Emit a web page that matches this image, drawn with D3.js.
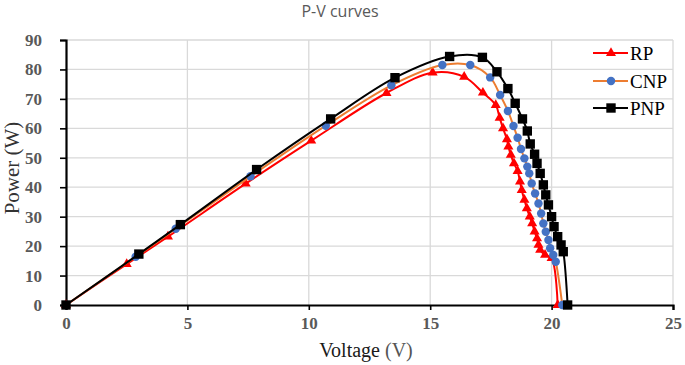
<!DOCTYPE html>
<html>
<head>
<meta charset="utf-8">
<script src="https://cdn.jsdelivr.net/npm/d3@7"></script>
<style>
  body { margin: 0; background: #fff; }
  svg { display: block; }
</style>
</head>
<body>
<svg id="chart" width="685" height="365"></svg>
<script>
// series names + values
const seriesNames = ["RP", "CNP", "PNP"];

const rpV = [0, 2.5, 4.2, 7.4, 10.1, 13.2, 15.1, 16.4, 17.17, 17.7, 17.86, 18.0, 18.16, 18.22, 18.32, 18.45, 18.6, 18.7, 18.77, 18.88, 18.98, 19.1, 19.2, 19.3, 19.4, 19.46, 19.53, 19.73, 20.0, 20.25];
const rpP = [0, 13.9, 23.2, 41.2, 55.8, 72.0, 78.9, 77.5, 72.1, 67.9, 63.6, 60.0, 56.3, 53.8, 51.0, 48.1, 45.5, 41.9, 39.0, 35.7, 32.8, 30.0, 27.7, 24.9, 22.6, 20.4, 18.7, 17.0, 15.9, 0];

const cnpV = [0, 2.87, 4.52, 7.6, 10.7, 13.4, 15.5, 16.65, 17.47, 17.88, 18.2, 18.43, 18.6, 18.74, 18.88, 19.0, 19.08, 19.18, 19.32, 19.46, 19.57, 19.66, 19.76, 19.87, 19.94, 20.07, 20.17, 20.44];
const cnpP = [0, 16.4, 25.9, 43.7, 60.9, 74.6, 81.5, 81.5, 77.3, 71.3, 65.9, 60.8, 56.8, 53.0, 49.8, 47.0, 44.7, 41.3, 37.9, 34.5, 31.1, 27.7, 24.9, 22.1, 19.3, 17.0, 14.7, 0];

const pnpV = [0, 3.0, 4.71, 7.85, 10.9, 13.55, 15.8, 17.15, 17.75, 18.2, 18.5, 18.8, 19.0, 19.12, 19.3, 19.4, 19.53, 19.66, 19.76, 19.87, 20.0, 20.1, 20.25, 20.39, 20.48, 20.66];
const pnpP = [0, 17.3, 27.3, 46.0, 63.2, 77.2, 84.4, 84.1, 79.2, 73.5, 68.5, 63.2, 59.1, 54.7, 51.2, 48.1, 44.7, 40.8, 37.4, 34.0, 30.0, 26.6, 23.2, 20.4, 18.1, 0];

const xTicks = [0, 5, 10, 15, 20, 25];
const yTicks = [0, 10, 20, 30, 40, 50, 60, 70, 80, 90];

const svg = d3.select("#chart");

const x = d3.scaleLinear().domain([0, 25]).range([66, 673]);
const y = d3.scaleLinear().domain([0, 90]).range([305, 40]);

// style per series
const styles = [
  { line: "#ff0000", fill: "#ff0000", symbol: d3.symbolTriangle, size: 44 },
  { line: "#ed7d31", fill: "#4472c4", symbol: d3.symbolCircle, size: 56 },
  { line: "#000000", fill: "#000000", symbol: d3.symbolSquare, size: 88 }
];

const series = [
  rpV.map((v, i) => ({ v: v, p: rpP[i] })),
  cnpV.map((v, i) => ({ v: v, p: cnpP[i] })),
  pnpV.map((v, i) => ({ v: v, p: pnpP[i] }))
];

const serif = "'Liberation Serif', 'Times New Roman', serif";

// title
svg.append("text")
  .attr("x", 340)
  .attr("y", 17)
  .attr("text-anchor", "middle")
  .style("font-family", "'Open Sans', sans-serif")
  .style("font-size", "16px")
  .style("fill", "#595959")
  .text("P-V curves");

// gridlines
svg.append("g")
  .selectAll("line")
  .data(yTicks.slice(1))
  .join("line")
  .attr("x1", x(0)).attr("x2", x(25))
  .attr("y1", d => y(d)).attr("y2", d => y(d))
  .attr("stroke", "#d9d9d9")
  .attr("stroke-width", 1.3);

svg.append("g")
  .selectAll("line")
  .data(xTicks.slice(1))
  .join("line")
  .attr("x1", d => x(d)).attr("x2", d => x(d))
  .attr("y1", y(0)).attr("y2", y(90))
  .attr("stroke", "#d9d9d9")
  .attr("stroke-width", 1.3);

// axes
const xAxis = svg.append("g")
  .attr("transform", `translate(0,${y(0)})`)
  .call(d3.axisBottom(x).tickValues(xTicks).tickSize(5).tickPadding(7).tickFormat(d3.format("d")));

const yAxis = svg.append("g")
  .attr("transform", `translate(${x(0)},0)`)
  .call(d3.axisLeft(y).tickValues(yTicks).tickSize(6).tickPadding(18).tickFormat(d3.format("d")));

[xAxis, yAxis].forEach(g => {
  g.select(".domain").attr("stroke", "#000").attr("stroke-width", 2.2);
  g.selectAll(".tick line").attr("stroke", "#000").attr("stroke-width", 1.6);
  g.selectAll(".tick text")
    .style("font-family", serif)
    .style("font-weight", "bold")
    .style("font-size", "17px")
    .style("fill", "#595959");
});

// axis titles
const xt = svg.append("text")
  .attr("x", 366)
  .attr("y", 357)
  .attr("text-anchor", "middle")
  .style("font-family", serif)
  .style("font-size", "20px");
xt.append("tspan").style("fill", "#1a1a1a").text("Voltage ");
xt.append("tspan").style("fill", "#555").text("(V)");

svg.append("text")
  .attr("transform", "translate(19,168) rotate(-90)")
  .attr("text-anchor", "middle")
  .style("font-family", serif)
  .style("font-size", "21px")
  .style("fill", "#333")
  .text("Power (W)");

// lines + markers
const line = d3.line()
  .x(d => x(d.v))
  .y(d => y(d.p))
  .curve(d3.curveCatmullRom.alpha(0.5));

series.forEach((data, i) => {
  const st = styles[i];
  svg.append("path")
    .datum(data)
    .attr("fill", "none")
    .attr("stroke", st.line)
    .attr("stroke-width", 2)
    .attr("d", line);

  svg.append("g")
    .selectAll("path")
    .data(data)
    .join("path")
    .attr("transform", d => `translate(${x(d.v)},${y(d.p)})`)
    .attr("d", d3.symbol().type(st.symbol).size(st.size))
    .attr("fill", st.fill);
});

// legend
const legend = svg.append("g");
const legendY = [53, 81, 108];
seriesNames.forEach((name, i) => {
  const st = styles[i];
  legend.append("line")
    .attr("x1", 593).attr("x2", 628)
    .attr("y1", legendY[i]).attr("y2", legendY[i])
    .attr("stroke", st.line)
    .attr("stroke-width", 2);
  legend.append("path")
    .attr("transform", `translate(611,${legendY[i]})`)
    .attr("d", d3.symbol().type(st.symbol).size(st.size))
    .attr("fill", st.fill);
  legend.append("text")
    .attr("x", 630)
    .attr("y", legendY[i])
    .attr("dy", "0.35em")
    .style("font-family", serif)
    .style("font-size", "19px")
    .style("fill", "#000")
    .text(name);
});
</script>
</body>
</html>
